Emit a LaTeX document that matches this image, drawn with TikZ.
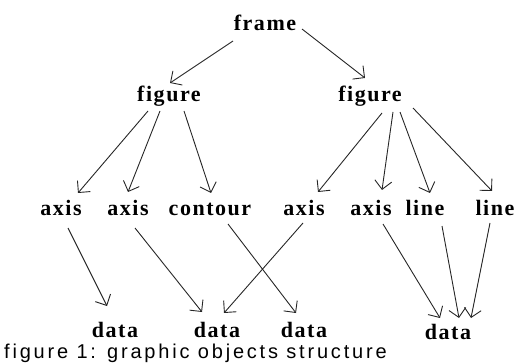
\documentclass[tikz,border=0pt]{standalone}
\usepackage{fontspec}
\setmainfont{Liberation Serif}
\newfontfamily\labelfont[LetterSpace=7]{Liberation Serif}
\newfontfamily\capfont[LetterSpace=14]{Liberation Sans}
\usetikzlibrary{arrows.meta,calc}

\tikzset{
  obj/.style={font=\labelfont\fontsize{22}{22}\selectfont\bfseries, inner sep=0pt, anchor=base},
  link/.style={line width=0.9pt, draw=black!85,
    -{Straight Barb[length=8.5pt,width=17pt,line width=0.9pt]}},
}

\begin{document}
\begin{tikzpicture}[x=1pt,y=-1pt]
  \useasboundingbox (0,0) rectangle (516,363);

  % object nodes, placed by their baselines
  \node[obj] (frame) at (265,31) {frame};
  \node[obj] (figL)  at (169,102) {figure};
  \node[obj] (figR)  at (370,102) {figure};

  \node[obj] (ax1)  at (61,215)  {axis};
  \node[obj] (ax2)  at (128,215) {axis};
  \node[obj] (cont) at (210,215) {contour};
  \node[obj] (ax3)  at (304,215) {axis};
  \node[obj] (ax4)  at (371,215) {axis};
  \node[obj] (ln1)  at (425,216) {line};
  \node[obj] (ln2)  at (495,215) {line};

  \node[obj] (d1) at (115,337) {data};
  \node[obj] (d2) at (217,337) {data};
  \node[obj] (d3) at (304,337) {data};
  \node[obj] (d4) at (448,339) {data};

  % caption
  \node[anchor=base west, inner sep=0pt, font=\capfont\fontsize{20}{20}\selectfont]
    (cap) at (4,358) {figure 1: graphic objects structure};

  % frame -> figures
  \draw[link] ($(frame.base)+(-32,10)$) -- ($(figL.base)+(1,-19)$);
  \draw[link] ($(frame.base)+(37,-2)$)  -- ($(figR.base)+(-5,-24)$);

  % left figure -> children
  \draw[link] ($(figL.base)+(-21,9)$) -- ($(ax1.base)+(17,-22)$);
  \draw[link] ($(figL.base)+(-9,9)$)  -- ($(ax2.base)+(0,-23)$);
  \draw[link] ($(figL.base)+(15,9)$)  -- ($(cont.base)+(1,-22)$);

  % right figure -> children
  \draw[link] ($(figR.base)+(12,11)$) -- ($(ax3.base)+(14,-23)$);
  \draw[link] ($(figR.base)+(23,10)$) -- ($(ax4.base)+(11,-25)$);
  \draw[link] ($(figR.base)+(30,10)$) -- ($(ln1.base)+(5,-23)$);
  \draw[link] ($(figR.base)+(43,6)$)  -- ($(ln2.base)+(-3,-24)$);

  % children -> data
  \draw[link] ($(ax1.base)+(7,13)$)  -- ($(d1.base)+(-8,-31)$);
  \draw[link] ($(ax2.base)+(7,13)$)  -- ($(d2.base)+(-15,-25)$);
  \draw[link] ($(cont.base)+(18,9)$) -- ($(d3.base)+(-8,-24)$);
  \draw[link] ($(ax3.base)+(-1,8)$)  -- ($(d2.base)+(7,-24)$);
  \draw[link] ($(ax4.base)+(12,9)$)  -- ($(d4.base)+(-8,-21)$);
  \draw[link] ($(ln1.base)+(17,10)$) -- ($(d4.base)+(11,-21)$);
  \draw[link] ($(ln2.base)+(-5,8)$)  -- ($(d4.base)+(23,-21)$);
\end{tikzpicture}
\end{document}
